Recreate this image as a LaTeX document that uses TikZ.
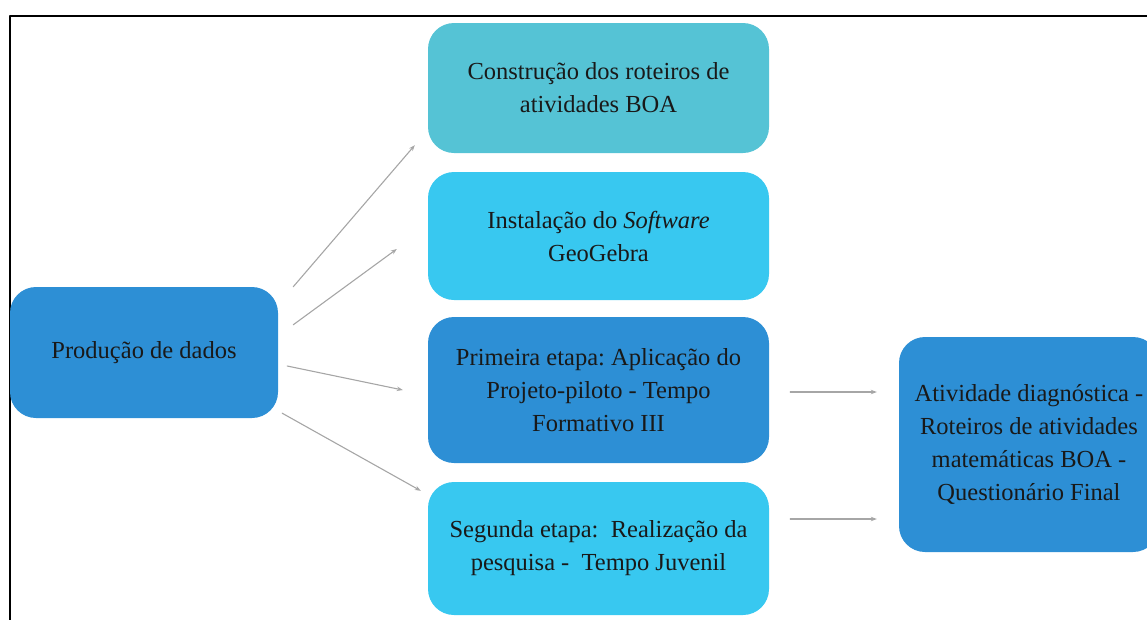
\documentclass[tikz,border=0pt]{standalone}
\usepackage{fontspec}
\setmainfont{Liberation Serif}
\usetikzlibrary{arrows.meta}
\definecolor{tealbox}{HTML}{55C3D5}
\definecolor{lightbox}{HTML}{38C8F0}
\definecolor{darkbox}{HTML}{2D8FD5}
\definecolor{linkgray}{HTML}{A6A6A6}
\frenchspacing
\begin{document}
\begin{tikzpicture}[x=1pt, y=-1pt, line join=round, line cap=round,
		box/.style={rounded corners=26pt, inner sep=0pt, align=center, text=black!90,
			font=\fontsize{24.5}{33}\selectfont},
		link/.style={linkgray, line width=1.1pt, -{Stealth[length=6pt,width=4.5pt]}}]
	\useasboundingbox (0,0) rectangle (1147,619);
	\draw[line width=2pt] (10,640) -- (10,16) -- (1170,16);
	\node[box, fill=darkbox, minimum width=268pt, minimum height=131pt] (prod) at (144,352.5) {Produção de dados};
	\node[box, fill=tealbox, minimum width=341pt, minimum height=130pt] (cons) at (598.5,88) {Construção dos roteiros de\\atividades BOA};
	\node[box, fill=lightbox, minimum width=341pt, minimum height=128pt] (inst) at (598.5,236) {Instalação do \textit{Software}\\GeoGebra};
	\node[box, fill=darkbox, minimum width=341pt, minimum height=146pt] (prim) at (598.5,390) {Primeira etapa: Aplicação do\\Projeto-piloto - Tempo\\Formativo III};
	\node[box, fill=lightbox, minimum width=341pt, minimum height=133pt] (seg) at (598.5,548.5) {Segunda etapa:~ Realização da\\pesquisa -~ Tempo Juvenil};
	\node[box, fill=darkbox, minimum width=260pt, minimum height=215pt] (ativ) at (1029,444.5) {Atividade diagnóstica -\\Roteiros de atividades\\matemáticas BOA -\\Questionário Final};
	% setas
	\draw[link] ([shift={(15,0)}]prod.north east) -- ([shift={(-13,-8)}]cons.south west);
	\draw[link] ([shift={(15,38)}]prod.north east) -- ([shift={(-31,13)}]inst.west);
	\draw[link] ([shift={(9,13.5)}]prod.east) -- ([shift={(-25,0)}]prim.west);
	\draw[link] ([shift={(4,-5)}]prod.south east) -- ([shift={(-7,9)}]seg.north west);
	\draw[link] ([shift={(21,2)}]prim.east) -- ([shift={(-22,-52.5)}]ativ.west);
	\draw[link] ([shift={(21,-29.5)}]seg.east) -- ([shift={(-22,74.5)}]ativ.west);
\end{tikzpicture}
\end{document}
